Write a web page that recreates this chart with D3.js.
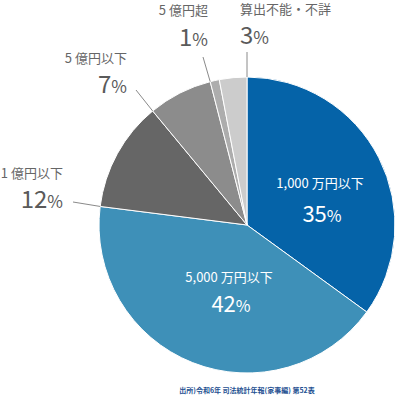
<!DOCTYPE html>
<html><head><meta charset="utf-8">
<script src="https://cdn.jsdelivr.net/npm/d3@7"></script>
<style>
html,body{margin:0;padding:0;background:#fff;}
svg{display:block;font-family:"Noto Sans CJK JP","Noto Sans",sans-serif;}
</style></head>
<body>
<svg id="chart" width="396" height="396"></svg>
<script>
const categories = ["1,000 万円以下", "5,000 万円以下", "1 億円以下", "5 億円以下", "5 億円超", "算出不能・不詳"];
const values = [35, 42, 12, 7, 1, 3];
const colors = ["#0563a8", "#3e90b8", "#666666", "#8c8c8c", "#adadad", "#cccccc"];
const source = "出所)令和6年 司法統計年報(家事編) 第52表";

// layout (not data)
const cx = 247, cy = 225, R = 148;
const layout = [
  {inside:true, nx:320, ny:188, py:222, px:322},
  {inside:true, nx:229, ny:282, py:312, px:231},
  {inside:false, anchor:"end", x:63, ny:178, py:208, lx:73, ly:202, edge:"start"},
  {inside:false, anchor:"end", x:127, ny:63, py:93, lx:136, ly:90, edge:"start"},
  {inside:false, anchor:"end", x:208, ny:15, py:46, lx:203, ly:57, edge:"start"},
  {inside:false, anchor:"start", x:240, ny:14, py:44, lx:247, ly:52, edge:"end"}
];

const svg = d3.select("#chart");
const pie = d3.pie().sort(null).value(d => d.v);
const arcs = pie(values.map((v,i)=>({v, i})));
const arc = d3.arc().innerRadius(0).outerRadius(R);
const g = svg.append("g").attr("transform", `translate(${cx},${cy})`);

g.selectAll("path").data(arcs).join("path")
  .attr("d", arc)
  .attr("fill", d => colors[d.data.i])
  .attr("stroke", "#fff")
  .attr("stroke-width", 1);

// leader lines
arcs.forEach((a, i) => {
  const L = layout[i];
  if (L.inside) return;
  const ang = L.edge === "start" ? a.startAngle : a.endAngle;
  const ex = cx + R * Math.sin(ang), ey = cy - R * Math.cos(ang);
  svg.append("line")
    .attr("x1", L.lx).attr("y1", L.ly)
    .attr("x2", ex).attr("y2", ey)
    .attr("stroke", "#8a8a8a").attr("stroke-width", 1);
});

// labels
arcs.forEach((a, i) => {
  const L = layout[i];
  const inside = L.inside;
  const fill = inside ? "#fff" : "#666";
  const anchor = inside ? "middle" : L.anchor;
  const nx = inside ? L.nx : L.x;
  const px = inside ? L.px : L.x;
  svg.append("text")
    .attr("x", nx).attr("y", L.ny)
    .attr("text-anchor", anchor)
    .attr("font-size", 13)
    .attr("fill", fill)
    .text(categories[i]);
  const t = svg.append("text")
    .attr("x", px).attr("y", L.py)
    .attr("text-anchor", anchor)
    .attr("fill", inside ? "#fff" : "#5a5a5a");
  t.append("tspan").attr("font-size", inside ? 22 : 24).text(values[i]);
  t.append("tspan").attr("font-size", inside ? 16 : 17).text("%");
});

svg.append("text")
  .attr("x", cx).attr("y", 393)
  .attr("text-anchor", "middle")
  .attr("font-size", 7)
  .attr("font-weight", "bold")
  .attr("fill", "#1d4f91")
  .text(source);
</script>
</body></html>
